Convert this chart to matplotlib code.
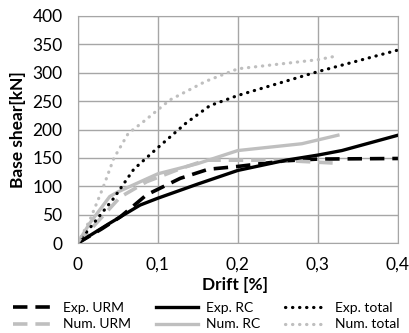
import matplotlib.pyplot as plt

plt.rcParams['font.family'] = ['Lato', 'DejaVu Sans']

# Experimental curves (drift %, base shear kN)
exp_urm_x = [0, 0.03, 0.053, 0.065, 0.086, 0.128, 0.163, 0.2, 0.26, 0.3, 0.4]
exp_urm_y = [0, 25, 46, 60, 85, 114, 130, 135, 145, 148, 149]
exp_rc_x = [0, 0.04, 0.078, 0.1, 0.15, 0.2, 0.26, 0.3, 0.33, 0.4]
exp_rc_y = [0, 35, 67, 79, 104, 128, 146, 155, 163, 190]
exp_tot_x = [0, 0.02, 0.045, 0.07, 0.1, 0.135, 0.165, 0.2, 0.3, 0.4]
exp_tot_y = [0, 35, 79, 130, 168, 211, 242, 260, 302, 340]

# Numerical curves
num_urm_x = [0, 0.02, 0.053, 0.086, 0.128, 0.16, 0.25, 0.32]
num_urm_y = [0, 30, 81, 108, 131, 146, 146, 141]
num_rc_x = [0, 0.015, 0.04, 0.05, 0.1, 0.15, 0.2, 0.28, 0.325]
num_rc_y = [0, 35, 82, 90, 122, 140, 163, 175, 190]
num_tot_x = [0, 0.015, 0.032, 0.045, 0.063, 0.084, 0.115, 0.16, 0.2, 0.25, 0.3, 0.325]
num_tot_y = [0, 40, 99, 149, 193, 216, 252, 285, 307, 315, 323, 330]

x_ticks = [0, 0.1, 0.2, 0.3, 0.4]
x_labels = ['0', '0,1', '0,2', '0,3', '0,4']
y_ticks = [0, 50, 100, 150, 200, 250, 300, 350, 400]

black = '#000000'
grey = '#bfbfbf'
dash = (0, (4, 2.2))
dots = (0, (0.1, 2.1))

fig = plt.figure(figsize=(4.09, 3.33), dpi=100)
ax = fig.add_axes([0.19, 0.27, 0.783, 0.682])

ax.plot(exp_urm_x, exp_urm_y, color=black, lw=2.6, linestyle=dash, label='Exp. URM')
ax.plot(num_urm_x, num_urm_y, color=grey, lw=2.6, linestyle=dash, label='Num. URM')
ax.plot(exp_rc_x, exp_rc_y, color=black, lw=2.4, label='Exp. RC')
ax.plot(num_rc_x, num_rc_y, color=grey, lw=2.4, label='Num. RC')
ax.plot(exp_tot_x, exp_tot_y, color=black, lw=2.3, linestyle=dots,
        dash_capstyle='round', label='Exp. total')
ax.plot(num_tot_x, num_tot_y, color=grey, lw=2.3, linestyle=dots,
        dash_capstyle='round', label='Num. total')

ax.set_xlim(0, 0.4)
ax.set_ylim(0, 400)
ax.set_xticks(x_ticks)
ax.set_xticklabels(x_labels)
ax.set_yticks(y_ticks)
ax.tick_params(axis='y', length=0, labelsize=12.5, pad=11)
ax.tick_params(axis='x', length=0, labelsize=12.5, pad=10)
ax.grid(True, color='#a6a6a6', lw=1)
ax.set_axisbelow(True)
for s in ax.spines.values():
    s.set_color('#a6a6a6')

ax.set_xlabel('Drift [%]', fontsize=12.5, fontweight='bold', va='center')
ax.xaxis.set_label_coords(0.49, -0.185)
ax.set_ylabel('Base shear[kN]', fontsize=12.5, fontweight='bold', va='center')
ax.yaxis.set_label_coords(-0.185, 0.5)

fig.legend(loc='center', bbox_to_anchor=(0.505, 0.05), ncol=3, frameon=False,
           fontsize=10, handlelength=3.0, columnspacing=1.8, labelspacing=0.3,
           handletextpad=0.6, borderpad=0.0)

fig.savefig('out.png', dpi=100)
